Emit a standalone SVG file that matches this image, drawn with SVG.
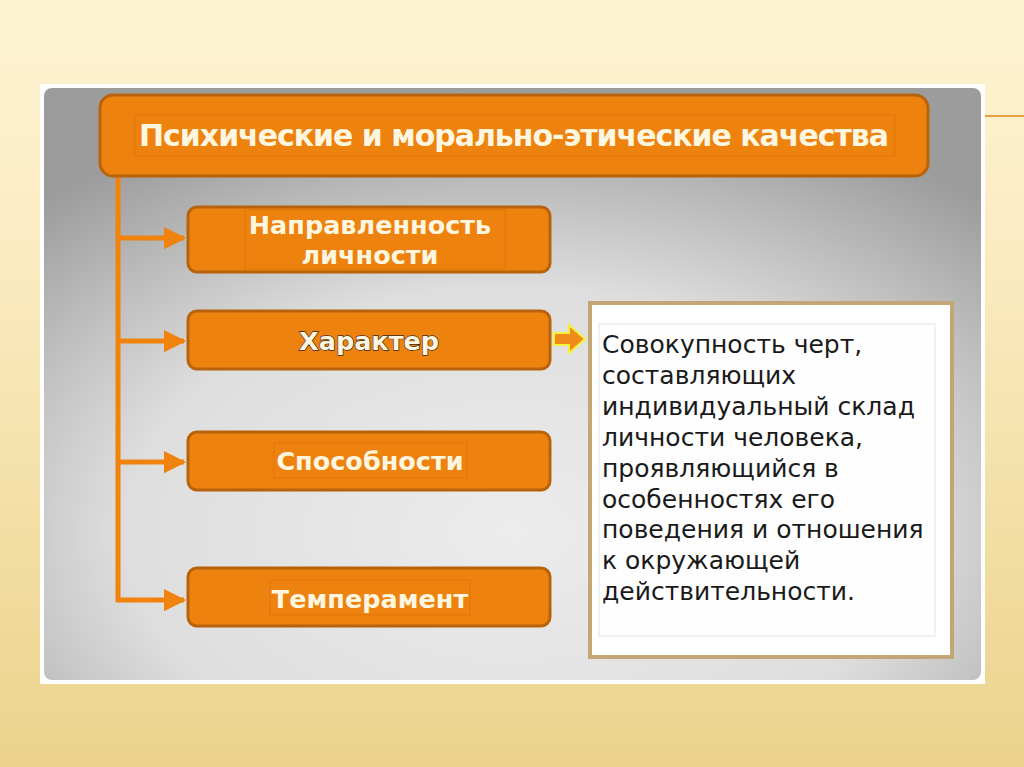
<svg xmlns="http://www.w3.org/2000/svg" width="1024" height="767" viewBox="0 0 1024 767">
<defs>
<linearGradient id="bg" x1="0" y1="0" x2="0" y2="1">
<stop offset="0" stop-color="#fdf3d3"/>
<stop offset="0.3" stop-color="#fcecc3"/>
<stop offset="1" stop-color="#ebd38c"/>
</linearGradient>
<radialGradient id="panel" cx="0.5" cy="0.75" r="0.75">
<stop offset="0" stop-color="#ececec"/>
<stop offset="0.55" stop-color="#dedede"/>
<stop offset="1" stop-color="#9c9c9c"/>
</radialGradient>
<marker id="ah" viewBox="0 0 10 10" refX="9" refY="5" markerWidth="4.5" markerHeight="5" orient="auto" markerUnits="strokeWidth">
<path d="M0,0 L10,5 L0,10 z" fill="#f0830e"/>
</marker>
<style>
.box{fill:#ee820e;stroke:#b9620c;stroke-width:3}
.lbl{font-family:"DejaVu Sans",Verdana,sans-serif;font-weight:bold;font-size:25.5px;fill:#fff6e0;text-anchor:middle}
.ttl{font-size:30px}
.conn{stroke:#f0830e;stroke-width:5;fill:none}
.desc{font-family:"DejaVu Sans",Verdana,sans-serif;font-size:25px;fill:#1a1a1a}
</style>
</defs>
<rect width="1024" height="767" fill="url(#bg)"/>
<line x1="985" y1="116" x2="1024" y2="116" stroke="#e8a040" stroke-width="2"/>
<rect x="40" y="84" width="945" height="600" fill="#ffffff"/>
<rect x="44" y="88" width="937" height="592" rx="8" fill="url(#panel)"/>
<g id="connectors">
<line class="conn" x1="118" y1="176" x2="118" y2="602"/>
<line class="conn" x1="116" y1="238" x2="184" y2="238" marker-end="url(#ah)"/>
<line class="conn" x1="116" y1="341" x2="184" y2="341" marker-end="url(#ah)"/>
<line class="conn" x1="116" y1="462" x2="184" y2="462" marker-end="url(#ah)"/>
<line class="conn" x1="116" y1="600" x2="184" y2="600" marker-end="url(#ah)"/>
<path d="M554,333 L569,333 L569,325 L585,339 L569,353 L569,345 L554,345 z" fill="#f08a1a" stroke="#f6f23a" stroke-width="2"/>
</g>
<g id="title">
<rect class="box" x="100" y="95" width="828" height="81" rx="13"/>
<rect x="135" y="115" width="760" height="41" fill="none" stroke="#e07608" stroke-width="1"/>
<text class="lbl ttl" x="514" y="146" textLength="750" lengthAdjust="spacing">Психические и морально-этические качества</text>
</g>
<g id="napravlennost">
<rect class="box" x="188" y="207" width="362" height="65" rx="9"/>
<rect x="245" y="210" width="260" height="59" fill="none" stroke="#e07608" stroke-width="1"/>
<text class="lbl" x="370" y="234">Направленность</text>
<text class="lbl" x="370" y="264">личности</text>
</g>
<g id="harakter">
<rect class="box" x="188" y="311" width="362" height="58" rx="9"/>
<text class="lbl" x="369" y="350" stroke="#3a2a1a" stroke-width="1.3" paint-order="stroke">Характер</text>
</g>
<g id="sposobnosti">
<rect class="box" x="188" y="432" width="362" height="58" rx="9"/>
<rect x="274" y="443" width="193" height="35" fill="none" stroke="#e07608" stroke-width="1"/>
<text class="lbl" x="370" y="470">Способности</text>
</g>
<g id="temperament">
<rect class="box" x="188" y="568" width="362" height="58" rx="9"/>
<rect x="270" y="580" width="200" height="35" fill="none" stroke="#e07608" stroke-width="1"/>
<text class="lbl" x="370" y="608">Темперамент</text>
</g>
<g id="description">
<rect x="590" y="303" width="362" height="354" fill="#ffffff" stroke="#c4a676" stroke-width="4"/>
<rect x="599" y="324" width="336" height="312" fill="#fefefe" stroke="#e4e4e4" stroke-width="1"/>
<text class="desc" x="602">
<tspan x="602" y="353">Совокупность черт,</tspan>
<tspan x="602" y="384">составляющих</tspan>
<tspan x="602" y="415">индивидуальный склад</tspan>
<tspan x="602" y="446">личности человека,</tspan>
<tspan x="602" y="477">проявляющийся в</tspan>
<tspan x="602" y="508">особенностях его</tspan>
<tspan x="602" y="538">поведения и отношения</tspan>
<tspan x="602" y="569">к окружающей</tspan>
<tspan x="602" y="600">действительности.</tspan>
</text>
</g>
</svg>
